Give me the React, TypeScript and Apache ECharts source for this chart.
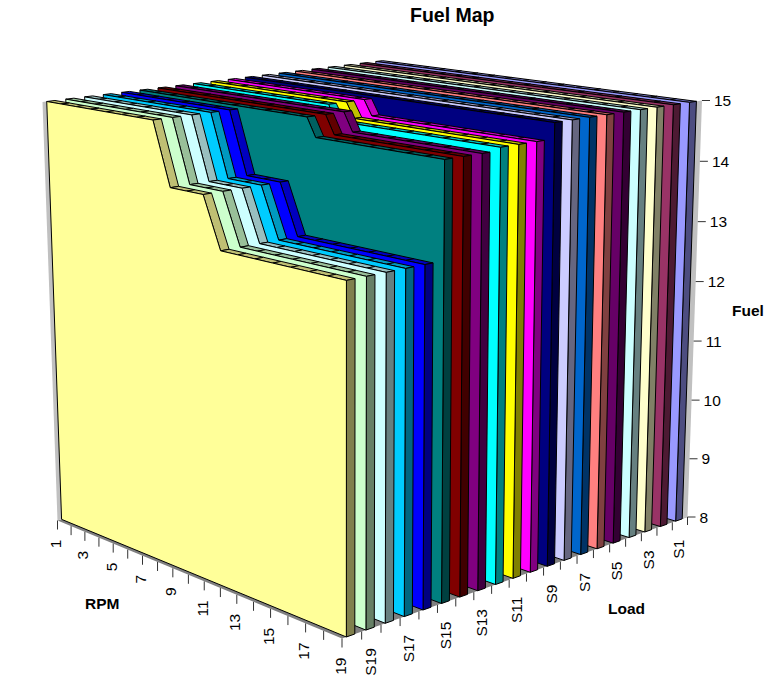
import React, { useEffect, useRef } from "react";
import * as echarts from "echarts";

const rpmLabels = ["1","2","3","4","5","6","7","8","9","10","11","12","13","14","15","16","17","18","19"];
const loadLabels = ["S1","S2","S3","S4","S5","S6","S7","S8","S9","S10","S11","S12","S13","S14","S15","S16","S17","S18","S19","S20"];
const fuelTicks = [8, 9, 10, 11, 12, 13, 14, 15];

const S1 = [15,15,15,15,15,15,15,15,15,15,15,15,15,15,15,15,15,15,15];
const S2 = [15,15,15,15,15,15,15,15,15,15,15,15,15,15,15,15,15,15,15];
const S3 = [15,15,15,15,15,15,15,15,15,15,15,15,15,15,15,15,15,15,15];
const S4 = [15,15,15,15,15,15,15,15,15,15,15,15,15,15,15,15,15,15,15];
const S5 = [15,15,15,15,15,15,15,15,15,15,15,15,15,15,15,15,15,15,15];
const S6 = [15,15,15,15,15,15,15,15,15,15,15,15,15,15,15,15,15,15,15];
const S7 = [15,15,15,15,15,15,15,15,15,15,15,15,15,15,15,15,15,15,15];
const S8 = [15,15,15,15,15,15,15,15,15,15,15,15,15,15,15,15,15,15,15];
const S9 = [15,15,15,15,15,15,15,15,15,15,15,15,15,15,15,15,15,15,15];
const S10 = [15.3,15.3,15.3,15.3,15.3,15.3,15.3,15.3,15.3,14.75,14.75,14.75,14.75,14.75,14.75,14.75,14.75,14.75,14.75];
const S11 = [15.3,15.3,15.3,15.3,15.3,15.3,15.3,15.3,15.3,14.75,14.75,14.75,14.75,14.75,14.75,14.75,14.75,14.75,14.75];
const S12 = [15.3,15.3,15.3,15.3,15.3,15.3,15.3,15.3,15.3,14.75,14.75,14.75,14.75,14.75,14.75,14.75,14.75,14.75,14.75];
const S13 = [15.3,15.3,15.3,15.3,15.3,15.3,15.3,15.3,15.3,15.3,15.3,14.7,14.7,14.7,14.7,14.7,14.7,14.7,14.7];
const S14 = [15.3,15.3,15.3,15.3,15.3,15.3,15.3,15.3,15.3,15.3,15.3,14.7,14.7,14.7,14.7,14.7,14.7,14.7,14.7];
const S15 = [15.3,15.3,15.3,15.3,15.3,15.3,15.3,15.3,15.3,15.3,15.3,14.7,14.7,14.7,14.7,14.7,14.7,14.7,14.7];
const S16 = [15,15,15,15,15,15,15,15,14,14,14,13.2,13.2,13.2,13.2,13.2,13.2,13.2,13.2];
const S17 = [15,15,15,15,15,15,15,15,14,14,14,13.2,13.2,13.2,13.2,13.2,13.2,13.2,13.2];
const S18 = [15,15,15,15,15,15,15,15,14,14,14,13.2,13.2,13.2,13.2,13.2,13.2,13.2,13.2];
const S19 = [15,15,15,15,15,15,15,15,14,14,14,13.2,13.2,13.2,13.2,13.2,13.2,13.2,13.2];
const S20 = [15,15,15,15,15,15,15,15,14,14,14,13.2,13.2,13.2,13.2,13.2,13.2,13.2,13.2];
const fuelSeries = [S1,S2,S3,S4,S5,S6,S7,S8,S9,S10,S11,S12,S13,S14,S15,S16,S17,S18,S19,S20];

const seriesColors = ["#9999FF","#993366","#FFFFCC","#CCFFFF","#660066","#FF8080","#0066CC","#CCCCFF","#000080","#FF00FF","#FFFF00","#00FFFF","#800080","#800000","#008080","#0000FF","#00CCFF","#CCFFFF","#CCFFCC","#FFFF99"];

const AX_MIN = 8;
const AX_MAX = 15;
const FONT = '"Liberation Sans", Arial, sans-serif';
type P = [number, number];

// Projects the unit square onto a screen quad (p00, p10, p11, p01)
function quadMap(p00: P, p10: P, p11: P, p01: P) {
  const dx1 = p10[0] - p11[0], dx2 = p01[0] - p11[0], sx = p00[0] - p10[0] + p11[0] - p01[0];
  const dy1 = p10[1] - p11[1], dy2 = p01[1] - p11[1], sy = p00[1] - p10[1] + p11[1] - p01[1];
  const det = dx1 * dy2 - dx2 * dy1;
  const g = (sx * dy2 - dx2 * sy) / det;
  const h = (dx1 * sy - sx * dy1) / det;
  const a = p10[0] - p00[0] + g * p10[0], b = p01[0] - p00[0] + h * p01[0], c = p00[0];
  const d = p10[1] - p00[1] + g * p10[1], e = p01[1] - p00[1] + h * p01[1], f = p00[1];
  return (u: number, v: number): P => {
    const w = g * u + h * v + 1;
    return [(a * u + b * v + c) / w, (d * u + e * v + f) / w];
  };
}
const floorMap = quadMap([57.5, 520.5], [342, 638.5], [687.5, 517], [389, 428]);
const topMap = quadMap([42.5, 102], [342, 154.5], [702, 100.5], [388, 60]);
const project = (u: number, v: number, val: number): P => {
  const a = floorMap(u, v), b = topMap(u, v);
  const t = (val - AX_MIN) / (AX_MAX - AX_MIN);
  const s = t / (t + 1.0255 * (1 - t));
  return [a[0] + (b[0] - a[0]) * s, a[1] + (b[1] - a[1]) * s];
};

const SLAB_FRONT = 0.22;
const SLAB_BACK = 0.65;
const N = fuelSeries.length;
const uOf = (i: number) => i / (rpmLabels.length - 1);

// Outline of a series, cut at the axis maximum
function clippedOutline(values: number[]) {
  const pts: { u: number; val: number }[] = [];
  values.forEach((val, i) => {
    const prev = values[i - 1];
    if (i > 0 && (prev - AX_MAX) * (val - AX_MAX) < 0) {
      pts.push({ u: uOf(i - 1) + (uOf(i) - uOf(i - 1)) * (prev - AX_MAX) / (prev - val), val: AX_MAX });
    }
    pts.push({ u: uOf(i), val: Math.min(val, AX_MAX) });
  });
  return pts;
}
function shade(hex: string, k: number) {
  const n = parseInt(hex.slice(1), 16);
  const c = (s: number) => Math.round(((n >> s) & 255) * k);
  return `rgb(${c(16)},${c(8)},${c(0)})`;
}
const line = { stroke: "#000", lineWidth: 1, lineJoin: "round" };

function slabRender(seriesIdx: number) {
  const values = fuelSeries[seriesIdx];
  const color = seriesColors[seriesIdx];
  const vf = (N - 1 - seriesIdx + SLAB_FRONT) / N;
  const vb = (N - 1 - seriesIdx + SLAB_BACK) / N;
  const outline = clippedOutline(values);
  return (_: any, api: any) => {
    if (api.value(0) !== 0) return null;
    const children: any[] = [];
    for (let i = 0; i < outline.length - 1; i++) {
      const a = outline[i], b = outline[i + 1];
      children.push({
        type: "polygon",
        shape: { points: [project(a.u, vf, a.val), project(b.u, vf, b.val), project(b.u, vb, b.val), project(a.u, vb, a.val)] },
        style: { fill: shade(color, 0.75), ...line },
      });
    }
    const last = outline[outline.length - 1];
    children.push({
      type: "polygon",
      shape: { points: [project(1, vf, AX_MIN), project(1, vf, last.val), project(1, vb, last.val), project(1, vb, AX_MIN)] },
      style: { fill: shade(color, 0.5), ...line },
    });
    children.push({
      type: "polygon",
      shape: { points: [project(0, vf, AX_MIN), ...outline.map((o) => project(o.u, vf, o.val)), project(1, vf, AX_MIN)] },
      style: { fill: color, ...line },
    });
    return { type: "group", children };
  };
}

const tickStyle = { stroke: "#333", lineWidth: 1 };
const labelStyle = { fill: "#000", fontSize: 15.5, fontFamily: FONT };

const renderFrame = (_: any, api: any) => {
  if (api.value(0) !== 0) return null;
  return {
    type: "group",
    children: [
      { type: "polygon", shape: { points: [project(0, 0, AX_MIN), project(1, 0, AX_MIN), project(1, 1, AX_MIN), project(0, 1, AX_MIN)] }, style: { fill: "#808080" } },
      { type: "polygon", shape: { points: [project(0, 0, AX_MAX), project(0, 0.0135, AX_MAX), project(0, 0.0135, AX_MIN), project(0, 0, AX_MIN)] }, style: { fill: "#C0C0C0" } },
      { type: "polygon", shape: { points: [project(1, 0.98, AX_MAX), project(1, 1, AX_MAX), project(1, 1, AX_MIN), project(1, 0.98, AX_MIN)] }, style: { fill: "#C0C0C0" } },
    ],
  };
};

const renderRpmAxis = (_: any, api: any) => {
  const i = api.value(0);
  const p = project(uOf(i), 0, AX_MIN);
  const children: any[] = [{ type: "line", shape: { x1: p[0], y1: p[1], x2: p[0], y2: p[1] + 9 }, style: tickStyle }];
  if (i % 2 === 0) {
    children.push({ type: "text", x: p[0] - 2, y: p[1] + 19, rotation: Math.PI / 2, style: { text: rpmLabels[i], align: "right", verticalAlign: "middle", ...labelStyle } });
  }
  return { type: "group", children };
};

const renderLoadAxis = (_: any, api: any) => {
  const i = api.value(0); // 0 = S1
  const cell = N - 1 - i;
  const tick = project(1, (cell + 1) / N, AX_MIN);
  const mid = project(1, (cell + 0.5) / N, AX_MIN);
  const children: any[] = [{ type: "line", shape: { x1: tick[0], y1: tick[1], x2: tick[0], y2: tick[1] + 8 }, style: tickStyle }];
  if (i % 2 === 0) {
    children.push({ type: "text", x: mid[0] - 1, y: mid[1] + 20, rotation: Math.PI / 2, style: { text: loadLabels[i], align: "right", verticalAlign: "middle", ...labelStyle } });
  }
  return { type: "group", children };
};

const renderFuelAxis = (_: any, api: any) => {
  const val = api.value(0);
  const p = project(1, 1, val);
  return {
    type: "group",
    children: [
      { type: "line", shape: { x1: p[0], y1: p[1], x2: p[0] + 8, y2: p[1] }, style: tickStyle },
      { type: "text", x: p[0] + 12, y: p[1], style: { text: String(val), align: "left", verticalAlign: "middle", ...labelStyle } },
    ],
  };
};

function axisName(text: string, left: number, top: number) {
  return { type: "text", left, top, silent: true, style: { text, fill: "#000", font: `bold 15.5px ${FONT}` } };
}

export default function App() {
  const ref = useRef<HTMLDivElement>(null);
  useEffect(() => {
    const chart = echarts.init(ref.current!, null, { renderer: "svg" });
    const slabs = fuelSeries.map((vals, s) => ({
      type: "custom",
      name: loadLabels[s],
      coordinateSystem: "none",
      silent: true,
      clip: false,
      data: vals.map((v, i) => [i, v]),
      renderItem: slabRender(s),
    }));
    const axisSeries = (data: number[], renderItem: any) => ({
      type: "custom",
      coordinateSystem: "none",
      silent: true,
      clip: false,
      data: data.map((d) => [d]),
      renderItem,
    });
    chart.setOption({
      animation: false,
      backgroundColor: "#fff",
      title: {
        text: "Fuel Map",
        left: 410,
        top: 5,
        textStyle: { fontFamily: FONT, fontWeight: "bold", fontSize: 19.5, color: "#000" },
        padding: 0,
      },
      graphic: [axisName("RPM", 85, 595), axisName("Load", 608, 600), axisName("Fuel", 732, 302)],
      series: [
        axisSeries([0], renderFrame),
        axisSeries(rpmLabels.map((_, i) => i), renderRpmAxis),
        axisSeries(loadLabels.map((_, i) => i), renderLoadAxis),
        axisSeries(fuelTicks, renderFuelAxis),
        ...slabs,
      ],
    });
    return () => chart.dispose();
  }, []);
  return <div ref={ref} style={{ position: "absolute", left: 0, top: 0, width: 778, height: 684 }} />;
}
